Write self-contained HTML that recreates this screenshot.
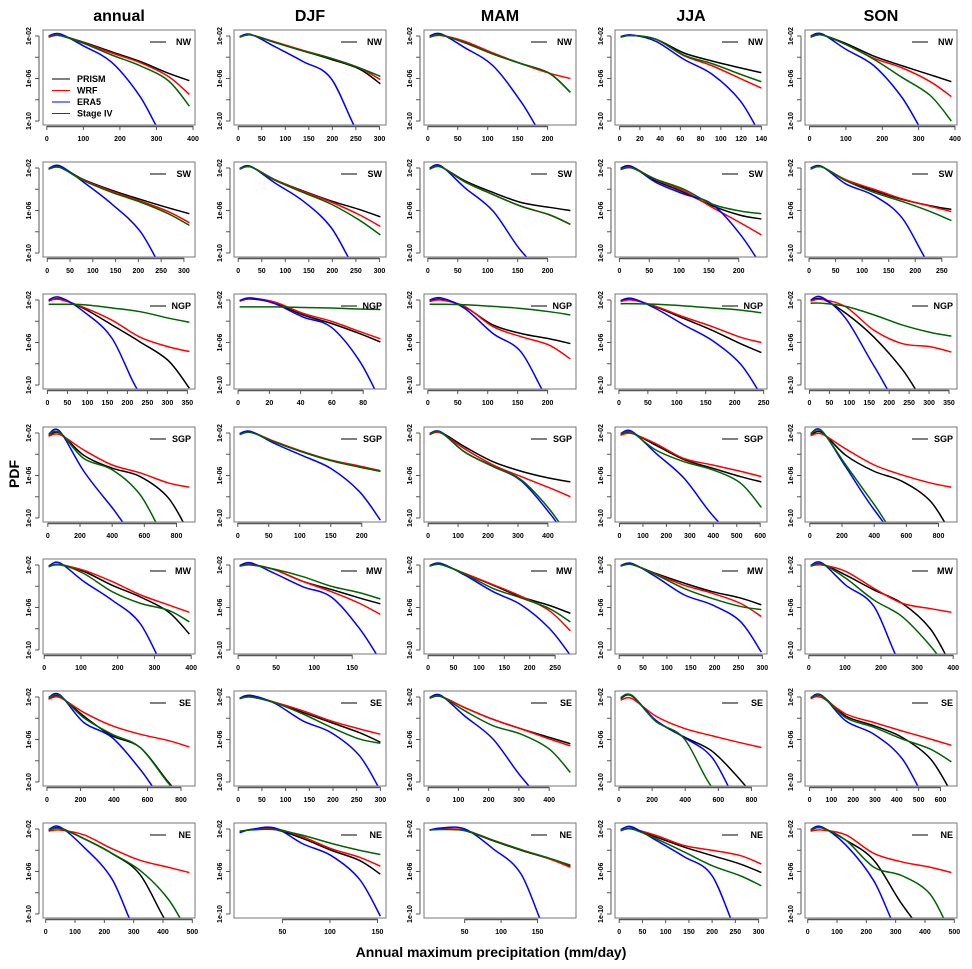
<!DOCTYPE html>
<html><head><meta charset="utf-8"><style>
html,body{margin:0;padding:0;background:#fff;width:972px;height:969px;overflow:hidden;}
svg{display:block;font-family:"Liberation Sans",sans-serif;}
</style></head><body>
<svg id="chart" width="972" height="969" viewBox="0 0 972 969" xmlns="http://www.w3.org/2000/svg">
<rect width="972" height="969" fill="#fff"/>
<g id="titles" font-weight="bold" font-size="16" text-anchor="middle">
<text x="119" y="21">annual</text>
<text x="310" y="21">DJF</text>
<text x="500" y="21">MAM</text>
<text x="691" y="21">JJA</text>
<text x="881" y="21">SON</text>
</g>
<text x="19" y="474" transform="rotate(-90 19 474)" font-size="14" font-weight="bold" text-anchor="middle">PDF</text>
<text x="491" y="957" font-size="14" font-weight="bold" text-anchor="middle">Annual maximum precipitation (mm/day)</text>
<g id="panels"></g>
</svg>
<script>
const regions=["NW","SW","NGP","SGP","MW","SE","NE"];
const seasons=["annual","DJF","MAM","JJA","SON"];
const sampleFractions=[0,0.08,0.25,0.45,0.65,0.85,1];
const xRanges=[
[5,390],[3,302],[3,238],[1,140],[3,390],
[3,312],[3,302],[3,238],[2,238],[3,268],
[3,355],[1,91],[3,238],[3,246],[3,356],
[5,880],[3,230],[5,475],[5,605],[5,880],
[12,395],[2,187],[3,280],[3,298],[5,395],
[10,850],[3,300],[5,470],[10,860],[5,650],
[10,490],[5,153],[2,195],[3,306],[10,490]];
const xTicks=[
[0,100,200,300,400],[0,50,100,150,200,250,300],[0,50,100,150,200],[0,20,40,60,80,100,120,140],[0,100,200,300,400],
[0,50,100,150,200,250,300],[0,50,100,150,200,250,300],[0,50,100,150,200],[0,50,100,150,200],[0,50,100,150,200,250],
[0,50,100,150,200,250,300,350],[0,20,40,60,80],[0,50,100,150,200],[0,50,100,150,200,250],[0,50,100,150,200,250,300,350],
[0,200,400,600,800],[0,50,100,150,200],[0,100,200,300,400],[0,100,200,300,400,500,600],[0,200,400,600,800],
[0,100,200,300,400],[0,50,100,150],[0,50,100,150,200,250],[0,50,100,150,200,250,300],[0,100,200,300,400],
[0,200,400,600,800],[0,50,100,150,200,250,300],[0,100,200,300,400],[0,200,400,600,800],[0,100,200,300,400,500,600],
[0,100,200,300,400,500],[50,100,150],[50,100,150],[0,50,100,150,200,250,300],[0,100,200,300,400,500]];
const yTickExp=[-2,-4,-6,-8,-10];
const yTickLabels=["1e-02","","1e-06","","1e-10"];
const prism=[
[-2.1,-1.95,-2.6,-3.5,-4.4,-5.5,-6.2],[-2.1,-1.9,-2.6,-3.4,-4.2,-5.1,-6.5],[-2.1,-1.9,-2.6,-3.7,-4.6,-5.5,-7.3],[-2.1,-1.95,-2.3,-3.6,-4.35,-5.0,-5.45],[-2.1,-1.9,-2.7,-3.9,-4.8,-5.65,-6.3],
[-2.1,-1.9,-3.1,-4.1,-4.95,-5.75,-6.3],[-2.1,-1.9,-3.1,-4.15,-5.1,-5.9,-6.6],[-2.1,-1.9,-3.2,-4.3,-5.25,-5.7,-6.0],[-2.1,-1.95,-3.2,-4.3,-5.55,-6.45,-6.8],[-2.1,-1.9,-3.15,-4.15,-4.95,-5.55,-5.9],
[-2.1,-1.9,-2.8,-4.35,-5.95,-7.7,-10.3],[-2.1,-1.9,-2.3,-3.4,-4.2,-5.15,-5.95],[-2.1,-1.95,-2.65,-4.35,-5.15,-5.65,-6.1],[-2.1,-1.95,-2.65,-3.75,-4.85,-6.1,-6.95],[-2.1,-1.9,-3.25,-5.5,-8.5,-14,-18],
[-2.25,-2.0,-4.1,-5.3,-6.1,-8.1,-11.5],[-2.1,-1.9,-2.85,-3.8,-4.6,-5.2,-5.6],[-2.1,-1.95,-3.3,-4.7,-5.6,-6.25,-6.6],[-2.15,-2.0,-3.15,-4.5,-5.3,-6.1,-6.6],[-2.2,-1.95,-4.1,-5.6,-6.55,-8.4,-11.5],
[-2.15,-1.95,-2.6,-3.9,-5.0,-6.4,-8.5],[-2.1,-1.95,-2.45,-3.55,-4.3,-5.1,-5.65],[-2.1,-1.95,-2.8,-3.9,-5.0,-5.8,-6.55],[-2.1,-1.95,-2.8,-3.7,-4.5,-5.1,-5.75],[-2.1,-1.9,-2.95,-4.35,-5.6,-8.0,-11.5],
[-2.15,-1.95,-3.8,-5.65,-6.75,-10,-14],[-2.15,-1.95,-2.5,-3.45,-4.4,-5.35,-6.25],[-2.1,-1.95,-3.0,-4.1,-5.0,-5.8,-6.4],[-2.15,-1.9,-4.2,-5.75,-7.1,-9.8,-14],[-2.1,-1.9,-3.8,-4.7,-5.8,-7.8,-11],
[-2.1,-1.9,-2.9,-4.3,-6.3,-11,-15],[-2.3,-2.05,-2.05,-2.9,-4.0,-4.95,-6.25],[-2.1,-2.0,-2.15,-3.1,-4.0,-4.8,-5.5],[-2.15,-1.95,-2.75,-3.7,-4.5,-5.3,-6.1],[-2.1,-1.9,-3.05,-4.95,-9.1,-15,-18]];
const wrf=[
[-2.05,-1.95,-2.65,-3.6,-4.5,-5.8,-7.5],[-2.1,-1.9,-2.55,-3.35,-4.1,-5.0,-6.1],[-2.1,-1.95,-2.5,-3.6,-4.6,-5.5,-6.0],[-2.1,-1.95,-2.3,-3.85,-4.8,-6.0,-6.9],[-2.05,-1.9,-2.8,-4.1,-5.0,-6.3,-7.7],
[-2.1,-1.95,-3.15,-4.2,-5.1,-6.1,-7.15],[-2.1,-1.9,-3.1,-4.2,-5.2,-6.4,-7.5],[-2.1,-1.9,-3.3,-4.5,-5.6,-6.4,-7.3],[-2.05,-1.9,-3.1,-4.15,-5.7,-7.15,-8.3],[-2.05,-1.9,-3.1,-4.0,-4.9,-5.6,-6.1],
[-2.05,-1.95,-2.7,-3.9,-5.5,-6.4,-6.85],[-2.1,-1.85,-2.2,-3.25,-4.0,-4.95,-5.65],[-2.15,-2.0,-2.6,-4.5,-5.45,-6.25,-7.55],[-2.15,-2.0,-2.6,-3.6,-4.5,-5.5,-6.0],[-2.1,-1.95,-2.65,-4.85,-6.1,-6.4,-6.9],
[-2.3,-2.15,-3.6,-5.0,-5.75,-6.7,-7.1],[-2.1,-1.9,-2.8,-3.75,-4.55,-5.1,-5.55],[-2.15,-2.0,-3.5,-5.0,-6.1,-7.15,-8.0],[-2.2,-2.05,-3.0,-4.4,-5.0,-5.6,-6.1],[-2.25,-2.1,-3.5,-5.0,-5.95,-6.7,-7.1],
[-2.1,-2.0,-2.5,-3.55,-4.8,-5.75,-6.45],[-2.1,-1.95,-2.45,-3.55,-4.5,-5.6,-6.65],[-2.1,-1.95,-2.8,-3.85,-4.95,-6.3,-8.2],[-2.1,-1.95,-2.85,-3.9,-4.65,-5.6,-6.85],[-2.1,-2.0,-2.6,-4.2,-5.6,-6.1,-6.45],
[-2.2,-2.05,-3.45,-4.7,-5.5,-6.1,-6.7],[-2.15,-2.0,-2.5,-3.3,-4.25,-5.0,-5.5],[-2.1,-1.95,-3.0,-4.1,-5.0,-5.95,-6.6],[-2.3,-2.15,-3.8,-4.95,-5.65,-6.3,-6.75],[-2.15,-2.05,-3.6,-4.4,-5.2,-5.95,-6.55],
[-2.2,-2.1,-2.55,-3.85,-4.95,-5.6,-6.1],[-2.3,-2.05,-1.95,-2.75,-3.85,-4.65,-5.5],[-2.1,-2.0,-2.1,-3.05,-3.95,-4.8,-5.6],[-2.1,-2.0,-2.6,-3.55,-4.0,-4.5,-5.3],[-2.2,-2.1,-2.55,-4.3,-5.1,-5.6,-6.1]];
const era5=[
[-2.0,-1.8,-2.95,-4.5,-7.7,-13,-16],[-2.05,-1.85,-3.0,-4.4,-6.0,-11.3,-14],[-2.0,-1.8,-3.1,-4.8,-8.2,-13,-16],[-2.05,-1.9,-2.5,-4.2,-5.6,-8.1,-11.5],[-2.0,-1.8,-3.25,-4.8,-7.8,-12,-15],
[-2.05,-1.8,-3.35,-5.4,-7.95,-13,-16],[-2.05,-1.85,-3.4,-5.1,-7.6,-12,-15],[-2.0,-1.8,-3.85,-6.05,-9.8,-14,-17],[-2.0,-1.85,-3.35,-4.45,-5.4,-8.25,-11.2],[-2.0,-1.85,-3.5,-4.6,-6.7,-11.2,-14],
[-2.0,-1.75,-3.1,-5.6,-10.8,-15,-18],[-2.05,-1.8,-2.35,-3.6,-4.55,-7.7,-11.5],[-2.0,-1.8,-2.8,-5.15,-6.9,-11.5,-15],[-2.05,-1.85,-2.8,-4.35,-5.8,-8.0,-11.0],[-2.0,-1.75,-3.75,-8.2,-16,-20,-22],
[-2.1,-1.85,-5.6,-9.0,-16,-20,-22],[-2.05,-1.85,-3.0,-4.15,-5.35,-7.5,-10.2],[-2.05,-1.9,-3.8,-5.15,-6.5,-9.5,-13],[-2.05,-1.85,-3.9,-6.25,-9.7,-14,-17],[-2.05,-1.8,-5.2,-9.2,-18,-22,-24],
[-2.1,-1.8,-3.55,-5.3,-7.5,-14,-17],[-2.05,-1.8,-2.8,-4.05,-5.0,-7.95,-11],[-2.05,-1.85,-2.95,-4.5,-5.75,-7.95,-10.5],[-2.05,-1.85,-3.1,-4.8,-5.75,-7.3,-10.2],[-2.05,-1.8,-3.9,-5.9,-11.5,-16,-20],
[-2.05,-1.8,-4.4,-5.8,-8.8,-14,-18],[-2.1,-1.85,-2.6,-4.25,-5.35,-7.5,-10.8],[-2.05,-1.85,-3.8,-5.95,-9.5,-15,-18],[-2.1,-1.85,-4.2,-5.8,-7.7,-14,-18],[-2.05,-1.85,-4.25,-5.5,-7.8,-13,-17],
[-2.05,-1.8,-3.7,-6.7,-14,-18,-20],[-2.35,-2.05,-1.9,-3.4,-4.5,-6.7,-10.2],[-2.1,-1.9,-2.0,-3.85,-6.25,-14,-18],[-2.05,-1.8,-3.05,-4.6,-6.4,-14,-18],[-2.05,-1.8,-3.5,-6.9,-14,-18,-20]];
const stage4=[
[-2.0,-1.95,-2.7,-3.8,-4.8,-6.2,-8.6],[-2.1,-1.9,-2.6,-3.4,-4.1,-5.0,-5.8],[-2.1,-1.9,-2.65,-3.7,-4.6,-5.5,-7.3],[-2.1,-1.95,-2.3,-3.8,-4.6,-5.6,-6.3],[-2.05,-1.9,-2.8,-4.2,-5.9,-7.6,-10.0],
[-2.1,-1.95,-3.2,-4.3,-5.2,-6.3,-7.4],[-2.1,-1.9,-3.15,-4.3,-5.4,-6.9,-8.3],[-2.1,-1.9,-3.3,-4.5,-5.6,-6.4,-7.3],[-2.15,-2.0,-3.05,-4.0,-5.4,-6.05,-6.3],[-2.1,-1.9,-3.2,-4.3,-5.15,-6.1,-6.95],
[-2.4,-2.4,-2.45,-2.75,-3.1,-3.7,-4.1],[-2.65,-2.65,-2.65,-2.7,-2.75,-2.85,-2.9],[-2.4,-2.4,-2.45,-2.6,-2.8,-3.1,-3.4],[-2.35,-2.35,-2.4,-2.55,-2.75,-2.95,-3.2],[-2.3,-2.3,-2.6,-3.4,-4.35,-5.05,-5.4],
[-2.15,-1.95,-4.4,-5.45,-7.8,-14,-18],[-2.15,-1.95,-2.85,-3.8,-4.6,-5.2,-5.6],[-2.1,-1.95,-3.8,-5.15,-6.4,-9.15,-12],[-2.1,-1.95,-3.6,-4.7,-5.45,-6.7,-9.0],[-2.1,-1.85,-5.0,-8.7,-16,-20,-22],
[-2.15,-1.95,-2.8,-4.5,-5.6,-6.25,-7.35],[-2.1,-2.0,-2.4,-3.1,-4.0,-4.6,-5.2],[-2.1,-1.95,-2.85,-4.2,-5.1,-6.1,-7.35],[-2.1,-1.95,-2.9,-4.2,-5.15,-5.9,-6.2],[-2.1,-1.9,-3.25,-5.3,-6.85,-9.6,-14],
[-2.1,-1.9,-3.95,-5.5,-6.75,-10.1,-14],[-2.15,-2.0,-2.55,-3.6,-4.85,-5.95,-6.35],[-2.1,-1.95,-3.3,-4.7,-5.5,-6.9,-9.1],[-2.05,-1.85,-4.3,-5.9,-10.5,-15,-18],[-2.1,-1.9,-3.95,-4.85,-5.95,-6.9,-8.1],
[-2.1,-1.95,-2.9,-4.3,-5.9,-8.6,-12],[-2.2,-2.1,-2.05,-2.6,-3.35,-4.0,-4.4],[-2.1,-2.05,-2.15,-3.05,-3.95,-4.75,-5.4],[-2.15,-2.0,-2.9,-4.15,-5.45,-6.4,-7.35],[-2.1,-1.9,-3.05,-5.6,-6.4,-8.15,-12]];
const seriesNames=["prism","wrf","era5","stage-iv"];
const seriesColors=["#000000","#ff0000","#0000ff","#006400"];
const legendLabels=["PRISM","WRF","ERA5","Stage IV"];

const NS="http://www.w3.org/2000/svg";
const colLeft=[43,234,424,615,805], rowTop=[30,162,294,427,559,691,823];
const PW=152, PH=95;
const root=document.getElementById('panels');
function mk(tag,attrs,parent){const e=document.createElementNS(NS,tag);for(const k in attrs)e.setAttribute(k,attrs[k]);parent.appendChild(e);return e;}
function smoothPath(pts){
  let d="M"+pts[0][0].toFixed(2)+","+pts[0][1].toFixed(2);
  for(let i=0;i<pts.length-1;i++){
    const p0=pts[Math.max(0,i-1)],p1=pts[i],p2=pts[i+1],p3=pts[Math.min(pts.length-1,i+2)];
    const c1=[p1[0]+(p2[0]-p0[0])/6,p1[1]+(p2[1]-p0[1])/6];
    const c2=[p2[0]-(p3[0]-p1[0])/6,p2[1]-(p3[1]-p1[1])/6];
    d+=" C"+c1[0].toFixed(2)+","+c1[1].toFixed(2)+" "+c2[0].toFixed(2)+","+c2[1].toFixed(2)+" "+p2[0].toFixed(2)+","+p2[1].toFixed(2);
  }
  return d;
}
const allSeries=[prism,wrf,era5,stage4];
for(let r=0;r<regions.length;r++){
 for(let c=0;c<seasons.length;c++){
  const i=r*5+c, L=colLeft[c], T=rowTop[r];
  const xr=xRanges[i], R=xr[1]-xr[0], x0=xr[0]-0.04*R, x1=xr[1]+0.04*R;
  const sx=v=>L+(v-x0)/(x1-x0)*PW;
  const sy=v=>T+6+(-2-v)*85/8;
  const g=mk('g',{},root);
  
  
  const cp=mk('clipPath',{id:'cp'+i},g);
  mk('rect',{x:L,y:T,width:PW,height:PH},cp);
  const ya=mk('g',{'font-size':'7','font-weight':'bold','text-anchor':'middle'},g);
  
  
  mk('line',{x1:L-4,x2:L-4,y1:sy(-2),y2:sy(-10),stroke:'#555','stroke-width':1},ya);
  yTickExp.forEach((e,k)=>{
    const y=sy(e);
    mk('line',{x1:L-8,x2:L-4,y1:y,y2:y,stroke:'#555','stroke-width':1},ya);
    if(yTickLabels[k]){const t=mk('text',{x:L-12,y:y,transform:'rotate(-90 '+(L-12)+' '+y+')'},ya);t.textContent=yTickLabels[k];}
  });
  const xa=mk('g',{'font-size':'7','font-weight':'bold','text-anchor':'middle'},g);
  
  
  const tk=xTicks[i];
  mk('line',{x1:sx(tk[0]),x2:sx(tk[tk.length-1]),y1:T+PH+1.5,y2:T+PH+1.5,stroke:'#555','stroke-width':1.5},xa);
  tk.forEach(v=>{
    mk('line',{x1:sx(v),x2:sx(v),y1:T+PH+1,y2:T+PH+5,stroke:'#555','stroke-width':1},xa);
    const t=mk('text',{x:sx(v),y:T+PH+16},xa);t.textContent=v;
  });
  const yLimit=T+PH+20;
  allSeries.forEach((s,k)=>{
    const pts=s[i].map((v,j)=>[sx(xr[0]+sampleFractions[j]*R),Math.min(sy(v),yLimit)]);
    const p=mk('path',{d:smoothPath(pts),fill:'none',stroke:seriesColors[k],'stroke-width':1.5,'clip-path':'url(#cp'+i+')'},g);
    
    
  });
  mk('rect',{x:L,y:T,width:PW,height:PH,fill:'none',stroke:'#777','stroke-width':1},g);
  const lg=mk('g',{},g);
  
  
  mk('line',{x1:L+107,x2:L+123,y1:T+12,y2:T+12,stroke:'#000','stroke-width':1},lg);
  const rt=mk('text',{x:L+148,y:T+15,'font-size':'9','font-weight':'bold','text-anchor':'end'},lg);
  rt.textContent=regions[r];
  if(i===0){
    const leg=mk('g',{'font-size':'9','font-weight':'bold'},g);
    
    
    legendLabels.forEach((lab,k)=>{
      const y=T+49+k*11.5;
      const e=mk('g',{},leg);
      
      
      mk('line',{x1:L+9,x2:L+27,y1:y,y2:y,stroke:seriesColors[k],'stroke-width':1},e);
      const t=mk('text',{x:L+34,y:y+3},e);t.textContent=lab;
    });
  }
 }
}
</script>
</body></html>
